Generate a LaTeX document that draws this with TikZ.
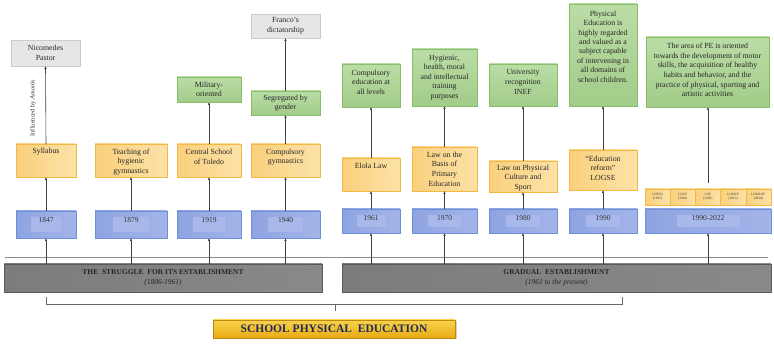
\documentclass[tikz,border=0pt]{standalone}
\usepackage{fontspec}
\setmainfont{Liberation Serif}
\usetikzlibrary{arrows.meta,fit,shadows,calc}
\definecolor{ybord}{HTML}{F3B845}
\definecolor{yfillA}{HTML}{F9D07C}
\definecolor{yfillB}{HTML}{FCE2A8}
\definecolor{gbord}{HTML}{86BE69}
\definecolor{gfillA}{HTML}{BADDA6}
\definecolor{gfillB}{HTML}{A2CC89}
\definecolor{lbord}{HTML}{CBCBCB}
\definecolor{lfill}{HTML}{E6E6E6}
\definecolor{bbord}{HTML}{6D8ED8}
\definecolor{bfillA}{HTML}{8EA4E1}
\definecolor{bfillB}{HTML}{A3B4E9}
\definecolor{binner}{HTML}{A8B8EB}
\definecolor{barA}{HTML}{7C7C7C}
\definecolor{barB}{HTML}{A4A4A4}
\definecolor{barC}{HTML}{898989}
\definecolor{arrc}{HTML}{404040}
\definecolor{goldA}{HTML}{F8D24C}
\definecolor{goldB}{HTML}{EAAA14}
\definecolor{navy}{HTML}{1F2A55}
\begin{document}
\begin{tikzpicture}[x=1pt,y=-1pt,
  boxbase/.style={inner sep=0pt, outer sep=0pt, line width=0.7pt},
  ybox/.style={boxbase, draw=ybord, left color=yfillA, right color=yfillB},
  gbox/.style={boxbase, draw=gbord, top color=gfillA, bottom color=gfillB},
  lbox/.style={boxbase, draw=lbord, fill=lfill},
  bbox/.style={boxbase, draw=bbord, left color=bfillA, right color=bfillB},
  barbox/.style={boxbase, draw=black!65, left color=barA, middle color=barB, right color=barC},
  txt/.style={font=\fontsize{7.8}{9.6}\selectfont, align=center, inner sep=0pt, text=black!85},
  yeartxt/.style={font=\fontsize{7.5}{9}\selectfont, inner sep=0pt, text=black!80},
  smalltxt/.style={font=\fontsize{3.4}{4.2}\selectfont, align=center, inner sep=0pt, text=black!75},
  bartxt/.style={font=\fontsize{7.5}{10}\selectfont, align=center, inner sep=0pt, text=black!85},
  arr/.style={draw=arrc, line width=0.6pt, -{Latex[length=3pt,width=2.6pt]}},
  brk/.style={draw=black!60, line width=0.6pt}
]
\useasboundingbox (0,0) rectangle (774,344);

% thin horizontal line
\draw[draw=black!45, line width=0.6pt] (5,257.5) -- (768,257.5);

% grey bars
\node[barbox, fit={(4,264)(322,292)}] (barL) {};
\node[barbox, fit={(342,264)(771,292)}] (barR) {};
\node[bartxt] (barLt) at (barL.center) {\textbf{THE\ \ STRUGGLE\ \ FOR ITS ESTABLISHMENT}\\\textit{(1806-1961)}};
\node[bartxt] (barRt) at (barR.center) {\textbf{GRADUAL\ \ ESTABLISHMENT}\\\textit{(1961 to the present)}};

% blue year boxes
\node[bbox, fit={(16,211)(76,238)}] (b1) {};
\node[bbox, fit={(95,211)(167,238)}] (b2) {};
\node[bbox, fit={(177,211)(241,238)}] (b3) {};
\node[bbox, fit={(251,211)(320,238)}] (b4) {};
\node[bbox, fit={(342,209)(400,233)}] (b5) {};
\node[bbox, fit={(412,209)(477,233)}] (b6) {};
\node[bbox, fit={(489,209)(557,233)}] (b7) {};
\node[bbox, fit={(569,209)(637,233)}] (b8) {};
\node[bbox, fit={(645,209)(771,233)}] (b9) {};
\foreach \n in {b1,b2,b3,b4,b5,b6,b7,b8,b9}{
  \fill[binner] ($(\n.north west)!0.25!(\n.north east)+(0,6.5)$) rectangle ($(\n.south east)!0.25!(\n.south west)+(0,-6)$);
}
\node[yeartxt] (yr1) at ($(b1.center)+(0,-4)$) {1847};
\node[yeartxt] (yr2) at ($(b2.center)+(0,-4)$) {1879};
\node[yeartxt] (yr3) at ($(b3.center)+(0,-4)$) {1919};
\node[yeartxt] (yr4) at ($(b4.center)+(0,-4)$) {1940};
\node[yeartxt] (yr5) at ($(b5.center)+(0,-3)$) {1961};
\node[yeartxt] (yr6) at ($(b6.center)+(0,-3)$) {1970};
\node[yeartxt] (yr7) at ($(b7.center)+(0,-3)$) {1980};
\node[yeartxt] (yr8) at ($(b8.center)+(0,-3)$) {1990};
\node[yeartxt] (yr9) at ($(b9.center)+(0,-3)$) {1990-2022};

% yellow boxes
\node[ybox, fit={(16,144)(76,177)}] (y1) {};
\node[ybox, fit={(95,144)(167,177)}] (y2) {};
\node[ybox, fit={(177,144)(241,177)}] (y3) {};
\node[ybox, fit={(251,144)(320,177)}] (y4) {};
\node[ybox, fit={(342,158)(400,191)}] (y5) {};
\node[ybox, fit={(412,147)(477,191)}] (y6) {};
\node[ybox, fit={(489,161)(557,192)}] (y7) {};
\node[ybox, fit={(569,150)(637,190)}] (y8) {};
\node[txt] (ty1) at (46,152) {Syllabus};
\node[txt] (ty2) at (131,162) {Teaching of\\hygienic\\gymnastics};
\node[txt] (ty3) at (209,157) {Central School\\of Toledo};
\node[txt] (ty4) at (285.5,157) {Compulsory\\gymnastics};
\node[txt] (ty5) at (371,166) {Elola Law};
\node[txt] (ty6) at (444.5,169) {Law on the\\Basis of\\Primary\\Education};
\node[txt] (ty7) at (523,178) {Law on Physical\\Culture and\\Sport};
\node[txt] (ty8) at (603,168) {``Education\\reform''\\LOGSE};

% small law boxes
\foreach \i/\lab [count=\k from 0] in {LOPEG/(1995),LOCE/(2002),LOE/(2006),LOMCE/(2013),LOMLOE/(2020)}{
  \node[ybox, line width=0.5pt, fit={({645+\k*25.2},189)({645+(\k+1)*25.2},205)}] (law\k) {};
  \node[smalltxt] (lawt\k) at (law\k.center) {\i\\\lab};
}

% green boxes
\node[gbox, fit={(177,77)(241,102)}] (g3) {};
\node[gbox, fit={(251,91)(320,115)}] (g4) {};
\node[gbox, fit={(342,64)(400,107)}] (g5) {};
\node[gbox, fit={(412,49)(477,106)}] (g6) {};
\node[gbox, fit={(489,64)(557,106)}] (g7) {};
\node[gbox, fit={(569,4)(637,106)}] (g8) {};
\node[gbox, fit={(646,37)(769,107)}] (g9) {};
\node[txt] (tg3) at (g3.center) {Military-\\oriented};
\node[txt] (tg4) at (g4.center) {Segregated by\\gender};
\node[txt] (tg5) at (371,82) {Compulsory\\education at\\all levels};
\node[txt] (tg6) at (g6.center) {Hygienic,\\health, moral\\and intellectual\\training\\purposes};
\node[txt] (tg7) at (523,82) {University\\recognition\\INEF};
\node[txt, font=\fontsize{7.8}{9.4}\selectfont] (tg8) at (603,46.5) {Physical\\Education is\\highly regarded\\and valued as a\\subject capable\\of intervening in\\all domains of\\school children.};
\node[txt, font=\fontsize{7.8}{9.7}\selectfont] (tg9) at (707.5,70) {The area of PE is oriented\\towards the development of motor\\skills, the acquisition of healthy\\habits and behavior, and the\\practice of physical, sporting and\\artistic activities};

% light grey boxes
\node[lbox, fit={(11,40)(80,66)}] (l1) {};
\node[lbox, fit={(251,14)(320,38)}] (l4) {};
\node[txt] (tl1) at (l1.center) {Nicomedes\\Pastor};
\node[txt] (tl4) at (l4.center) {Franco's\\dictatorship};

% arrows bars -> years
\foreach \n in {b1,b2,b3,b4}{ \draw[arr] (barL.north -| \n.south) -- (\n.south); }
\foreach \n in {b5,b6,b7,b8,b9}{ \draw[arr] (barR.north -| \n.south) -- (\n.south); }
% years -> yellow
\foreach \i in {1,...,8}{ \draw[arr] (b\i.north) -- (y\i.south); }
% yellow -> upper
\draw[arr] (y1.north) -- (l1.south);
\node[rotate=90, font=\fontsize{6.4}{7.5}\selectfont, inner sep=0pt, text=black!80] (infl) at (33,108) {Influenced by \textit{Amorós}};
\draw[arr] (y3.north) -- (g3.south);
\draw[arr] (y4.north) -- (g4.south);
\draw[arr] (g4.north) -- (l4.south);
\draw[arr] (y5.north) -- (g5.south);
\draw[arr] (y6.north) -- (g6.south);
\draw[arr] (y7.north) -- (g7.south);
\draw[arr] (y8.north) -- (g8.south);
\coordinate (c9) at (708,183);
\draw[arr] (c9) -- (c9 |- g9.south);

% bracket
\coordinate (brL) at (46,297);
\coordinate (brR) at (622,297);
\coordinate (brM) at (335,304);
\draw[brk] (brL) -- (46,304) -- (622,304) -- (brR);
\draw[brk] (brM) -- (335,311);

% gold title box
\node[boxbase, draw=goldB!80!black, top color=goldA, bottom color=goldB, drop shadow={shadow xshift=1.5pt, shadow yshift=-1.5pt, opacity=0.35}, fit={(213,320)(455,338)}] (title) {};
\node[font=\fontsize{11.5}{13}\selectfont\bfseries, text=navy, inner sep=0pt] (titlet) at (title.center) {SCHOOL PHYSICAL\ \ EDUCATION};
\end{tikzpicture}
\end{document}
